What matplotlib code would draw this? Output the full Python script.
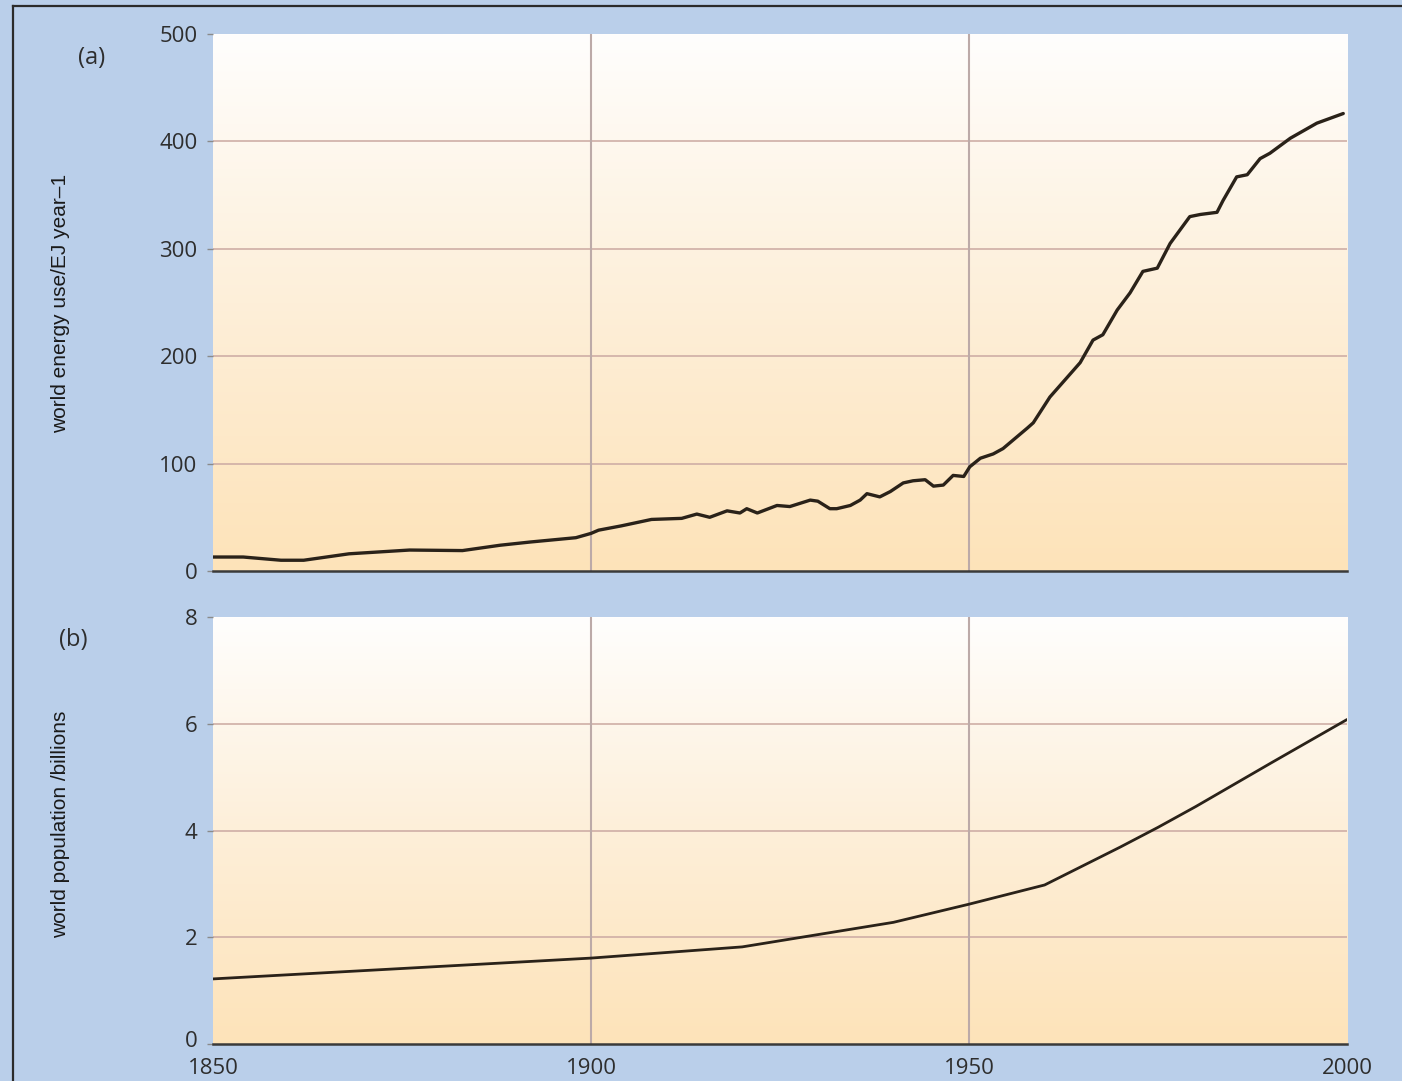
import numpy as np
import matplotlib
matplotlib.use("Agg")
import matplotlib.pyplot as plt
import matplotlib.transforms as mtransforms
from matplotlib.colors import LinearSegmentedColormap
from matplotlib.lines import Line2D

# World energy use (EJ per year)
energy_years = [1850, 1854, 1859, 1862, 1868, 1876, 1883, 1888, 1892, 1898,
                1900, 1901, 1904, 1908, 1912, 1914, 1915.7, 1918, 1919.7, 1920.6,
                1922, 1924.6, 1926.3, 1929, 1930, 1931.6, 1932.5, 1934.3, 1935.6, 1936.5,
                1938.2, 1939.6, 1941.3, 1942.6, 1944.2, 1945.3, 1946.6, 1947.9, 1949.3, 1950.1,
                1951.5, 1953.2, 1954.5, 1957.7, 1958.5, 1960.7, 1964.7, 1966.4, 1967.7, 1969.6,
                1971.3, 1973, 1974.9, 1976.6, 1979.2, 1980.6, 1982.8, 1983.6, 1985.4, 1986.8,
                1988.5, 1989.8, 1992.5, 1996, 1999.5]
energy_values = [13, 13, 10, 10, 16, 19.5, 19, 24, 27, 31,
                 35, 38, 42, 48, 49, 53, 50, 56, 54, 58,
                 54, 61, 60, 66, 65, 58, 58, 61, 66, 72,
                 69, 74, 82, 84, 85, 79, 80, 89, 88, 97,
                 105, 109, 114, 133, 138, 162, 194, 215, 220, 243,
                 259, 279, 282, 305, 330, 332, 334, 345, 367, 369,
                 384, 389, 403, 417, 426]

# World population (billions)
pop_years = [1850, 1900, 1920, 1930, 1940, 1950, 1960, 1970, 1975, 1980, 1990, 2000]
pop_values = [1.22, 1.61, 1.82, 2.05, 2.28, 2.62, 2.98, 3.69, 4.06, 4.45, 5.27, 6.08]

x_ticks = [1850, 1900, 1950, 2000]
energy_ticks = [0, 100, 200, 300, 400, 500]
pop_ticks = [0, 2, 4, 6, 8]

BG = "#bacfea"
LINE = "#2a2219"
HGRID = "#cfaea6"
VGRID = "#bcaaa8"
TICK_FONT = ["Open Sans", "DejaVu Sans"]
LABEL_FONT = ["Liberation Sans Narrow", "Liberation Sans", "DejaVu Sans"]

fig = plt.figure(figsize=(14.02, 10.81), dpi=100, facecolor=BG)

ax_a = fig.add_axes([0.1519, 0.4718, 0.8089, 0.4967])
ax_b = fig.add_axes([0.1519, 0.0342, 0.8089, 0.3950])

cmap = LinearSegmentedColormap.from_list("panel", ["#fee3b9", "#fdefd9", "#fffefd"])
grad = np.linspace(0, 1, 256).reshape(-1, 1)


def style_panel(ax, yticks, ymax):
    ax.set_facecolor("none")
    ax.imshow(grad, cmap=cmap, origin="lower", aspect="auto",
              extent=[0, 1, 0, 1], transform=ax.transAxes, zorder=0)
    ax.set_xlim(1850, 2000)
    ax.set_ylim(0, ymax)
    for y in yticks[1:-1]:
        ax.axhline(y, color=HGRID, lw=1.2, zorder=1)
    for x in x_ticks[1:-1]:
        ax.axvline(x, color=VGRID, lw=1.5, zorder=1)
    for s in ("top", "right", "left"):
        ax.spines[s].set_visible(False)
    ax.spines["bottom"].set_color("#3a3a3a")
    ax.spines["bottom"].set_linewidth(1.8)
    ax.spines["bottom"].set_zorder(3)
    ax.set_yticks(yticks)
    ax.set_xticks(x_ticks)
    ax.tick_params(axis="y", length=4, width=1, color="#8a8a8a", pad=7,
                   labelsize=16, labelcolor="#2e2e2e")
    ax.tick_params(axis="x", length=0, pad=10, labelsize=16, labelcolor="#2e2e2e")
    for lab in ax.get_yticklabels() + ax.get_xticklabels():
        lab.set_family(TICK_FONT)


style_panel(ax_a, energy_ticks, 500)
style_panel(ax_b, pop_ticks, 8)
ax_a.set_xticklabels([])

# lift the bottom panel's zero label clear of the year labels
zero_label = ax_b.get_yticklabels()[0]
zero_label.set_transform(zero_label.get_transform() +
                         mtransforms.ScaledTranslation(0, 5 / 100, fig.dpi_scale_trans))

ax_a.plot(energy_years, energy_values, color=LINE, lw=2.4, zorder=4,
          solid_joinstyle="round", solid_capstyle="round")
ax_b.plot(pop_years, pop_values, color=LINE, lw=2.0, zorder=4,
          solid_joinstyle="round", solid_capstyle="round")

fig.text(0.0435, 0.7195, "world energy use/EJ year–1", rotation=90,
         ha="center", va="center", fontsize=15, family=LABEL_FONT, color="#1a1a1a")
fig.text(0.0435, 0.2370, "world population /billions", rotation=90,
         ha="center", va="center", fontsize=15, family=LABEL_FONT, color="#1a1a1a")

fig.text(0.0655, 0.946, "(a)", ha="center", va="center", fontsize=17,
         family=TICK_FONT, color="#2e2e2e")
fig.text(0.0520, 0.408, "(b)", ha="center", va="center", fontsize=17,
         family=TICK_FONT, color="#2e2e2e")

# frame lines along the left and top edges
fig.add_artist(Line2D([0.0093, 0.0093], [0.0, 0.9945], transform=fig.transFigure,
                      color="#2b2b2b", lw=1.6))
fig.add_artist(Line2D([0.0093, 1.0], [0.9945, 0.9945], transform=fig.transFigure,
                      color="#2b2b2b", lw=1.6))

fig.savefig("out.png", dpi=100, facecolor=BG)
